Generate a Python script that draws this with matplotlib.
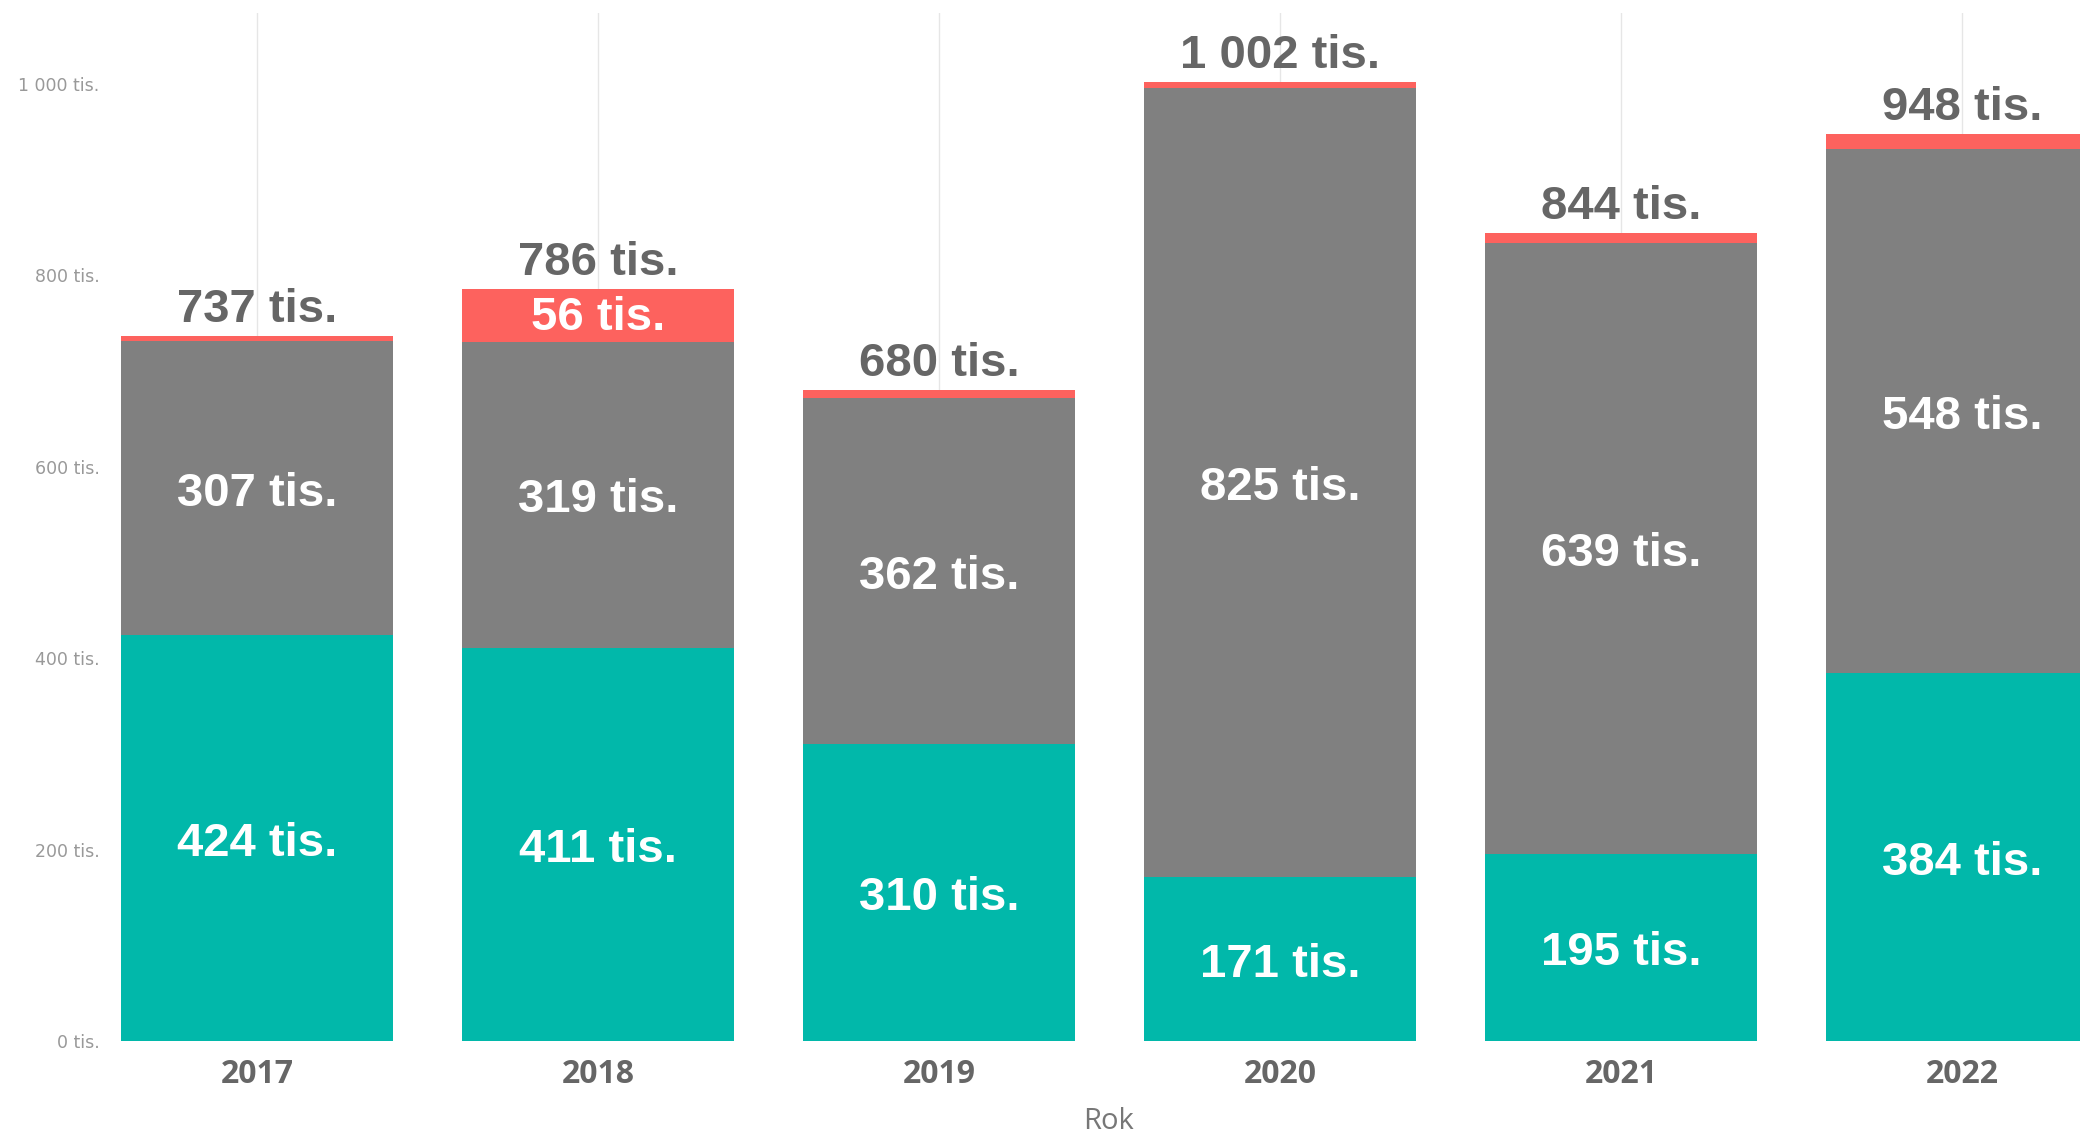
import matplotlib
matplotlib.use("Agg")
import matplotlib.pyplot as plt
import numpy as np

# data (thousands)
years = ["2017", "2018", "2019", "2020", "2021", "2022"]
teal_vals = [424, 411, 310, 171, 195, 384]
gray_vals = [307, 319, 362, 825, 639, 548]
red_vals = [6, 56, 8, 6, 10, 16]
totals = [737, 786, 680, 1002, 844, 948]
yticks = [0, 200, 400, 600, 800, 1000]
ytick_labels = ["0 tis.", "200 tis.", "400 tis.", "600 tis.", "800 tis.", "1 000 tis."]

TEAL = "#01B8AA"
GRAY = "#808080"
RED = "#FD625E"
LABEL_FONT = ["Liberation Sans", "DejaVu Sans"]
LABEL_SIZE = 34

W, H = 2080, 1136
fig = plt.figure(figsize=(W / 100, H / 100), dpi=100)
ax_left, ax_right, ax_top, ax_bottom = 108, 2080, 13, 1041
ax = fig.add_axes([ax_left / W, (H - ax_bottom) / H, (ax_right - ax_left) / W, (ax_bottom - ax_top) / H])

x = np.arange(len(years))
width = 0.797
ax.bar(x, teal_vals, width, color=TEAL, zorder=2)
ax.bar(x, gray_vals, width, bottom=teal_vals, color=GRAY, zorder=2)
bottom_red = np.array(teal_vals) + np.array(gray_vals)
ax.bar(x, red_vals, width, bottom=bottom_red, color=RED, zorder=2)

ax.set_xlim(-0.437, 5.346)
ax.set_ylim(0, 1074)


def inner_label(xi, yi, txt):
    ax.annotate(txt, (xi, yi), xytext=(0, -4), textcoords="offset points",
                ha="center", va="center", color="white", fontsize=LABEL_SIZE,
                fontweight="bold", family=LABEL_FONT, zorder=3)


# segment labels
for i in range(len(years)):
    inner_label(x[i], teal_vals[i] / 2, f"{teal_vals[i]} tis.")
    inner_label(x[i], teal_vals[i] + gray_vals[i] / 2, f"{gray_vals[i]} tis.")
    if red_vals[i] > 30:
        ax.annotate(f"{red_vals[i]} tis.", (x[i], bottom_red[i] + red_vals[i] / 2), xytext=(0, -2),
                    textcoords="offset points", ha="center", va="center", color="white",
                    fontsize=LABEL_SIZE, fontweight="bold", family=LABEL_FONT, zorder=3)
    tot = f"{totals[i]:,} tis.".replace(",", " ")
    ax.annotate(tot, (x[i], totals[i]), xytext=(0, 10), textcoords="offset points",
                ha="center", va="baseline", color="#666666", fontsize=LABEL_SIZE,
                fontweight="bold", family=LABEL_FONT, zorder=3)

# axes styling
for s in ax.spines.values():
    s.set_visible(False)
ax.set_xticks(x)
ax.set_xticklabels(years, fontsize=23, fontweight="bold", color="#666666", family=["Open Sans", "DejaVu Sans"])
ax.set_yticks(yticks)
ax.set_yticklabels(ytick_labels, fontsize=12.5, color="#999999", family=["DejaVu Sans"])
ax.tick_params(axis="both", length=0)
ax.tick_params(axis="x", pad=12)
ax.tick_params(axis="y", pad=6)
ax.grid(axis="x", color="#e6e6e6", linewidth=1, zorder=0)
ax.grid(axis="y", visible=False)

ax.set_xlabel("Rok", fontsize=21, color="#777777", family=["Open Sans", "DejaVu Sans"], va="center")
ax.xaxis.set_label_coords(0.5076, -0.078)

fig.savefig("out.png", dpi=100)
